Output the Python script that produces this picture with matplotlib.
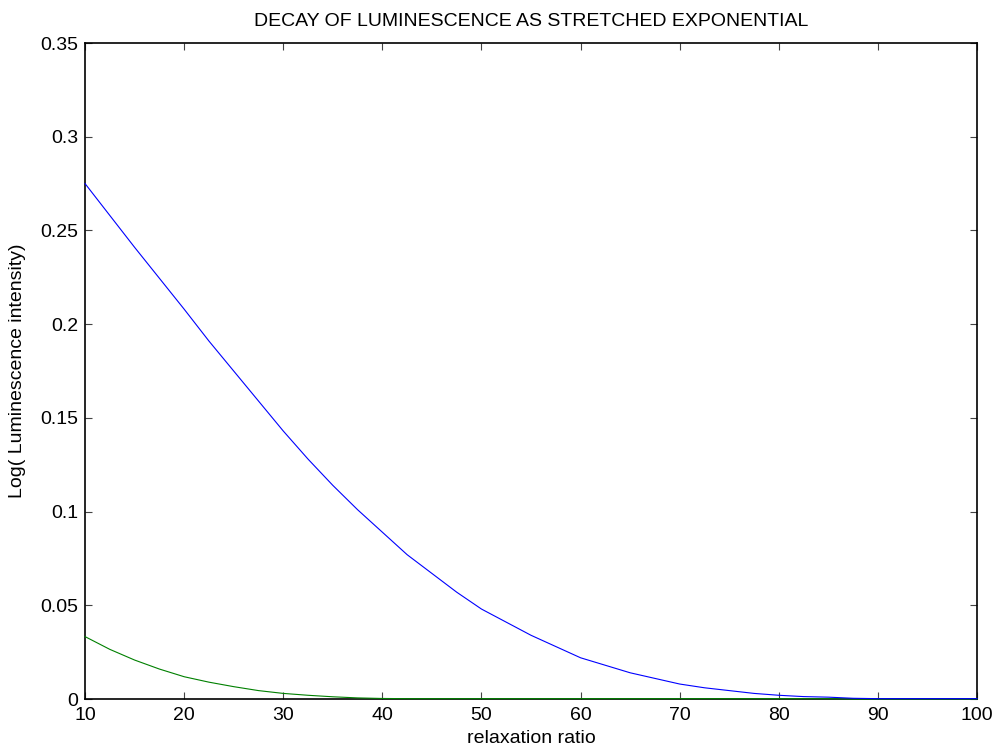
import matplotlib.pyplot as plt

plt.rcParams["font.family"] = ["Liberation Sans", "DejaVu Sans"]

# relaxation ratio samples
ratio = [10, 12.5, 15, 17.5, 20, 22.5, 25, 27.5, 30, 32.5, 35, 37.5, 40, 42.5, 45,
         47.5, 50, 52.5, 55, 57.5, 60, 62.5, 65, 67.5, 70, 72.5, 75, 77.5, 80,
         82.5, 85, 87.5, 90, 92.5, 95, 97.5, 100]

# log luminescence for the two stretching exponents
lum_blue = [0.275, 0.258, 0.241, 0.2245, 0.208, 0.191, 0.175, 0.159, 0.143, 0.128,
            0.114, 0.101, 0.089, 0.077, 0.067, 0.057, 0.048, 0.041, 0.034, 0.028,
            0.022, 0.018, 0.014, 0.011, 0.008, 0.006, 0.0045, 0.003, 0.002,
            0.0013, 0.001, 0.0004, 0.0002, 0.0002, 0.0002, 0.0002, 0.0002]
lum_green = [0.0333, 0.0265, 0.0208, 0.016, 0.0119, 0.009, 0.0066, 0.0045, 0.003,
             0.002, 0.0012, 0.0006, 0.0003, 0.0002, 0.0002, 0.0002, 0.0002, 0.0002,
             0.0002, 0.0002, 0.0002, 0.0002, 0.0002, 0.0002, 0.0002, 0.0002, 0.0002,
             0.0002, 0.0002, 0.0002, 0.0002, 0.0, 0.0, 0.0, 0.0, 0.0, 0.0]

xticks = [10, 20, 30, 40, 50, 60, 70, 80, 90, 100]
yticks = [0, 0.05, 0.1, 0.15, 0.2, 0.25, 0.3, 0.35]
ytick_labels = ["0", "0.05", "0.1", "0.15", "0.2", "0.25", "0.3", "0.35"]

fig = plt.figure(figsize=(9.97, 7.51), dpi=100)
ax = fig.add_axes([0.0853, 0.0692, 0.8947, 0.8735])

ax.plot(ratio, lum_green, color="#008000", linewidth=0.8, clip_on=False, zorder=3)
ax.plot(ratio, lum_blue, color="#0000ff", linewidth=0.8, clip_on=False, zorder=3)

ax.set_xlim(10, 100)
ax.set_ylim(0, 0.35)
ax.set_xticks(xticks)
ax.set_xticklabels([str(t) for t in xticks])
ax.set_yticks(yticks)
ax.set_yticklabels(ytick_labels)

ax.tick_params(direction="in", top=True, right=True, length=5, width=0.8,
               labelsize=14, color="#444444")
ax.tick_params(axis="x", pad=6)
ax.tick_params(axis="y", pad=5)
for s in ax.spines.values():
    s.set_linewidth(1.2)

ax.set_xlabel("relaxation ratio", fontsize=14, labelpad=4)
ax.set_ylabel("Log( Luminescence intensity)", fontsize=14, labelpad=10)
ax.set_title("DECAY OF LUMINESCENCE AS STRETCHED EXPONENTIAL", fontsize=14, pad=12)

fig.savefig("out.png", dpi=100)
